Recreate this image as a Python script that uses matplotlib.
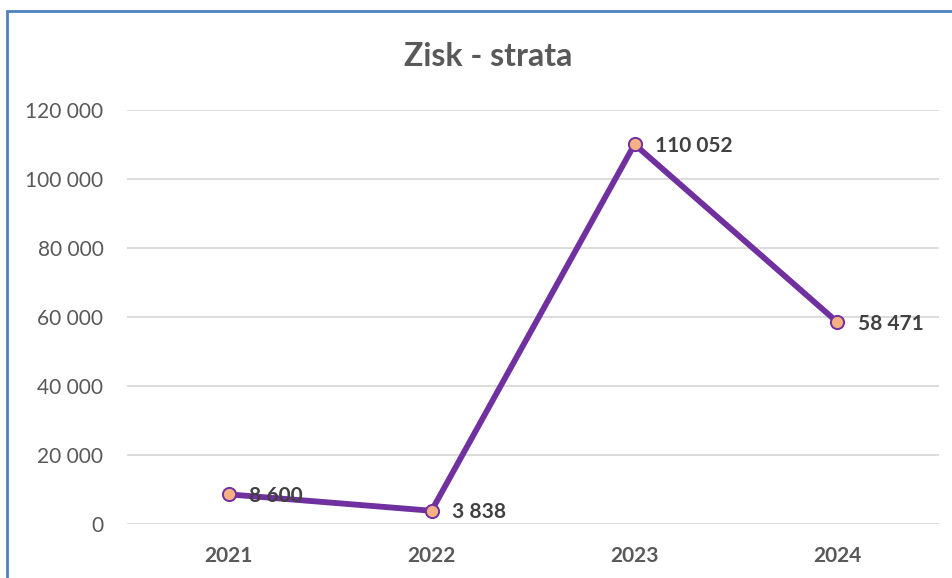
import matplotlib.pyplot as plt
from matplotlib.patches import Rectangle
from matplotlib.ticker import FuncFormatter

years = ["2021", "2022", "2023", "2024"]
profit = [8600, 3838, 110052, 58471]
y_ticks = [0, 20000, 40000, 60000, 80000, 100000, 120000]

LINE_COLOR = "#7030A0"
MARKER_FILL = "#F4B183"
TEXT_GRAY = "#595959"
LABEL_DARK = "#404040"


def fmt_thousands(value, _pos=None):
    return f"{int(round(value)):,}".replace(",", " ")


plt.rcParams["font.family"] = ["Lato", "DejaVu Sans"]

fig = plt.figure(figsize=(9.53, 5.78), dpi=100)
ax = fig.add_axes([0.1333, 0.0934, 0.852, 0.7163])

x = list(range(len(years)))
ax.plot(x, profit, color=LINE_COLOR, linewidth=4.2, marker="o", markersize=9.5,
        markerfacecolor=MARKER_FILL, markeredgecolor=LINE_COLOR, markeredgewidth=1.4,
        zorder=3)

for xi, val in zip(x, profit):
    ax.annotate(fmt_thousands(val), (xi, val), xytext=(15, -1), textcoords="offset points",
                ha="left", va="center", fontsize=15, fontweight="bold", color=LABEL_DARK,
                zorder=4)

ax.set_xlim(-0.5, len(years) - 0.5)
ax.set_ylim(0, 120000)
ax.set_yticks(y_ticks)
ax.yaxis.set_major_formatter(FuncFormatter(fmt_thousands))
ax.set_xticks(x)
ax.set_xticklabels(years, fontweight="bold")
ax.tick_params(axis="both", length=0, labelsize=15, labelcolor=TEXT_GRAY)
ax.tick_params(axis="y", pad=17)
ax.tick_params(axis="x", pad=16)
ax.grid(axis="y", color="#D9D9D9", linewidth=1.3)
ax.set_axisbelow(True)
for spine in ax.spines.values():
    spine.set_visible(False)

fig.text(0.512, 0.902, "Zisk - strata", ha="center", va="center", fontsize=23,
         fontweight="bold", color=TEXT_GRAY)

# blue chart border running off the right and bottom edges
fig.patches.append(Rectangle((0.0073, -0.1), 1.1, 1.081, transform=fig.transFigure,
                             fill=False, edgecolor="#4F81BD", linewidth=2.0))

fig.savefig("out.png", dpi=100)
